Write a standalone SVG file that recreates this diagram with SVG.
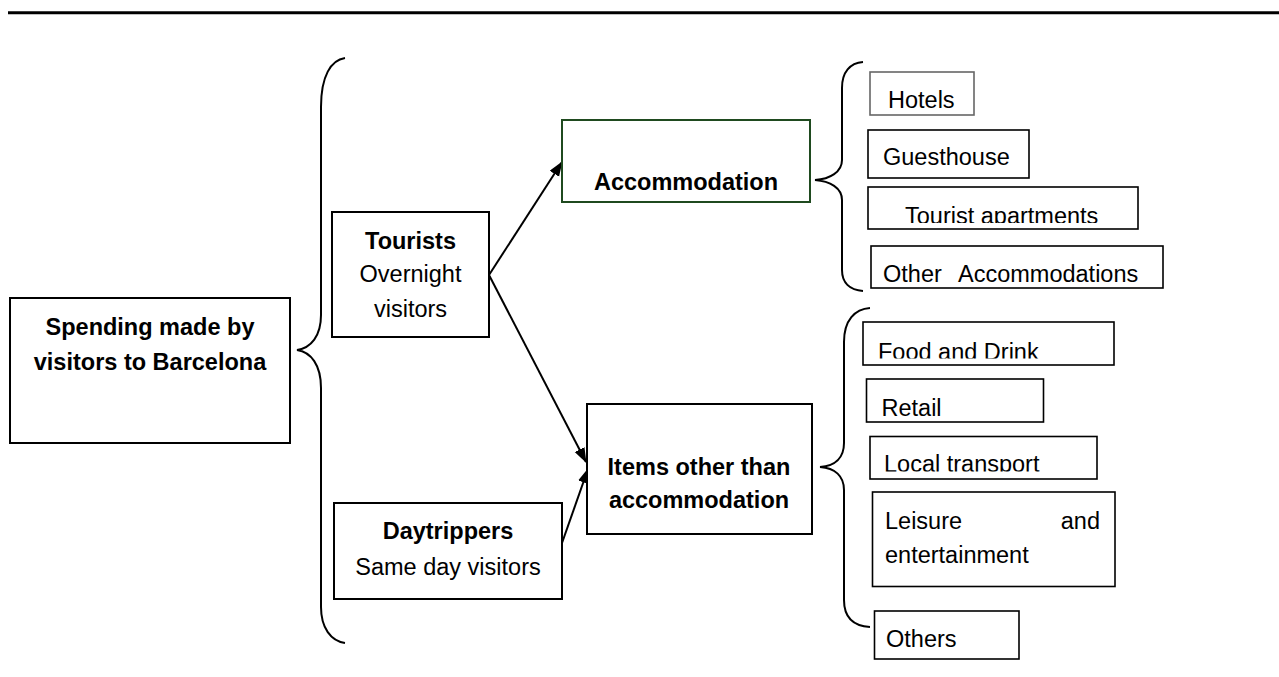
<svg xmlns="http://www.w3.org/2000/svg" width="1279" height="677" viewBox="0 0 1279 677">
<style>
  .box{fill:#fff;stroke:#000;stroke-width:2}
  .sub{fill:#fff;stroke:#000;stroke-width:1.6}
  .t{font-family:"Liberation Sans",Arial,sans-serif;font-size:23.5px;fill:#000}
  .b{font-weight:bold}
  .c{text-anchor:middle}
  .brace{fill:none;stroke:#000;stroke-width:2}
  .conn{stroke:#000;stroke-width:2;fill:none}
</style>
<defs>
  <marker id="arr" markerUnits="userSpaceOnUse" markerWidth="16" markerHeight="12" refX="14" refY="5.5" orient="auto">
    <path d="M0,0 L15,5.5 L0,11 z" fill="#000"/>
  </marker>
  <clipPath id="clipTA"><rect x="868" y="187" width="270" height="36"/></clipPath>
  <clipPath id="clipFD"><rect x="863" y="322" width="251" height="36.5"/></clipPath>
  <clipPath id="clipLT"><rect x="870" y="436" width="227" height="35.5"/></clipPath>
</defs>
<rect width="1279" height="677" fill="#fff"/>
<line x1="8" y1="12.7" x2="1279" y2="12.7" stroke="#000" stroke-width="3"/>

<g id="braces">
  <path class="brace" d="M345,58 C331,60 321,76 321,107 L321,315 C321,336 311,348 297,350 C311,352 321,365 321,388 L321,607 C321,628 331,641 345,643"/>
  <path class="brace" d="M863,62 C850,63 842,72 842,88 L842,160 C842,172 830,179 815,180 C830,181 842,188 842,200 L842,270 C842,283 850,290 863,291"/>
  <path class="brace" d="M870,308 C855,309 844,320 844,342 L844,443 C844,458 835,466 820,467 C835,468 844,476 844,490 L844,600 C844,617 853,626 870,627"/>
</g>

<g id="connectors">
  <line class="conn" x1="489" y1="275" x2="562" y2="162" marker-end="url(#arr)"/>
  <line class="conn" x1="489" y1="275" x2="586" y2="462" marker-end="url(#arr)"/>
  <line class="conn" x1="562" y1="543" x2="588" y2="469" marker-end="url(#arr)"/>
</g>

<g id="spending">
  <rect class="box" x="10" y="298" width="280" height="145"/>
  <text class="t b c" x="150" y="335">Spending made by</text>
  <text class="t b c" x="150" y="370">visitors to Barcelona</text>
</g>

<g id="tourists">
  <rect class="box" x="332" y="212" width="157" height="125"/>
  <text class="t b c" x="410.5" y="249">Tourists</text>
  <text class="t c" x="410.5" y="282">Overnight</text>
  <text class="t c" x="410.5" y="317">visitors</text>
</g>

<g id="daytrippers">
  <rect class="box" x="334" y="503" width="228" height="96"/>
  <text class="t b c" x="448" y="539">Daytrippers</text>
  <text class="t c" x="448" y="575">Same day visitors</text>
</g>

<g id="accommodation">
  <rect x="562" y="120" width="248" height="82" fill="#fff" stroke="#1f4a1f" stroke-width="2"/>
  <text class="t b c" x="686" y="190">Accommodation</text>
</g>

<g id="items">
  <rect class="box" x="587" y="404" width="225" height="130"/>
  <text class="t b c" x="699" y="475">Items other than</text>
  <text class="t b c" x="699" y="508">accommodation</text>
</g>

<g id="hotels">
  <rect x="870" y="72" width="104" height="43" fill="#fff" stroke="#666" stroke-width="1.6"/>
  <text class="t" x="888" y="108">Hotels</text>
</g>

<g id="guesthouse">
  <rect class="sub" x="868" y="130" width="161" height="48"/>
  <text class="t" x="883" y="165">Guesthouse</text>
</g>

<g id="tourist-apartments">
  <rect class="sub" x="868" y="187" width="270" height="42"/>
  <text class="t" x="905" y="224" clip-path="url(#clipTA)">Tourist apartments</text>
</g>

<g id="other-accommodations">
  <rect class="sub" x="871" y="246" width="292" height="42"/>
  <text class="t" x="883" y="282">Other</text>
  <text class="t" x="958" y="282">Accommodations</text>
</g>

<g id="food-drink">
  <rect class="sub" x="863" y="322" width="251" height="43"/>
  <text class="t" x="878" y="360" clip-path="url(#clipFD)">Food and Drink</text>
</g>

<g id="retail">
  <rect class="sub" x="866.5" y="379" width="177" height="43"/>
  <text class="t" x="881.5" y="415.5">Retail</text>
</g>

<g id="local-transport">
  <rect class="sub" x="870" y="436.5" width="227" height="42.5"/>
  <text class="t" x="884" y="472" clip-path="url(#clipLT)">Local transport</text>
</g>

<g id="leisure">
  <rect class="sub" x="872.5" y="492" width="242.5" height="94.5"/>
  <text class="t" x="885" y="528.5">Leisure</text>
  <text class="t" x="1100" y="528.5" text-anchor="end">and</text>
  <text class="t" x="885" y="563">entertainment</text>
</g>

<g id="others">
  <rect class="sub" x="874.5" y="611" width="144.5" height="48"/>
  <text class="t" x="886" y="647">Others</text>
</g>
</svg>
